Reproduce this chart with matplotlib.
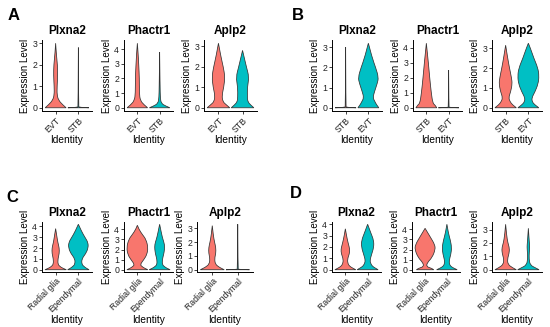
import matplotlib
matplotlib.use("Agg")
import matplotlib.pyplot as plt
from matplotlib.path import Path
from matplotlib.patches import PathPatch

plt.rcParams['font.family'] = ['Liberation Sans', 'DejaVu Sans']

RED = "#F8766D"
TEAL = "#00BFC4"

genes = ["Plxna2", "Phactr1", "Aplp2"]
cats_A = ["EVT", "STB"]
cats_B = ["STB", "EVT"]
cats_C = ["Radial glia", "Ependymal"]
cats_D = ["Radial glia", "Ependymal"]

# violin profiles: (expression levels, half-widths) per gene, per category
A_Plxna2_EVT = ([0, 0.15, 0.35, 0.6, 1.0, 1.5, 2.0, 2.5, 3.0], [0.46, 0.3, 0.13, 0.06, 0.065, 0.09, 0.08, 0.03, 0])
A_Plxna2_STB = ([0, 0.02, 0.06, 2.8], [0.46, 0.03, 0.01, 0])
A_Phactr1_EVT = ([0, 0.2, 0.5, 1.0, 2.0, 3.0, 3.8, 4.4], [0.46, 0.3, 0.13, 0.09, 0.09, 0.06, 0.03, 0])
A_Phactr1_STB = ([0, 0.12, 0.3, 0.7, 1.5, 2.5, 3.8], [0.46, 0.27, 0.07, 0.03, 0.02, 0.01, 0])
A_Aplp2_EVT = ([0, 0.15, 0.3, 0.6, 1.0, 1.5, 2.0, 2.5, 3.15], [0.47, 0.32, 0.18, 0.145, 0.22, 0.27, 0.2, 0.1, 0])
A_Aplp2_STB = ([0, 0.15, 0.3, 0.5, 1.0, 1.5, 2.0, 2.4, 2.8], [0.47, 0.32, 0.22, 0.2, 0.2, 0.27, 0.16, 0.08, 0])

B_Plxna2_STB = ([0, 0.02, 0.06, 3.0], [0.46, 0.03, 0.01, 0])
B_Plxna2_EVT = ([0, 0.15, 0.3, 0.5, 0.8, 1.2, 1.5, 2.0, 2.5, 3.2], [0.46, 0.36, 0.29, 0.2, 0.27, 0.39, 0.45, 0.32, 0.16, 0])
B_Phactr1_STB = ([0, 0.2, 0.3, 1.0, 2.0, 3.0, 4.0, 4.3], [0.47, 0.38, 0.29, 0.22, 0.15, 0.09, 0.02, 0])
B_Phactr1_EVT = ([0, 0.02, 0.06, 2.5], [0.46, 0.03, 0.01, 0])
B_Aplp2_STB = ([0, 0.15, 0.3, 0.5, 0.8, 1.2, 1.5, 2.0, 2.5, 3.15], [0.47, 0.3, 0.2, 0.13, 0.22, 0.29, 0.26, 0.17, 0.09, 0])
B_Aplp2_EVT = ([0, 0.15, 0.3, 0.5, 0.8, 1.2, 1.6, 2.0, 2.5, 3.0, 3.25], [0.46, 0.28, 0.17, 0.15, 0.29, 0.43, 0.47, 0.42, 0.24, 0.09, 0])

C_Plxna2_RG = ([0, 0.15, 0.3, 0.5, 1.0, 1.5, 2.0, 2.5, 3.0, 3.8], [0.47, 0.3, 0.19, 0.1, 0.1, 0.16, 0.16, 0.1, 0.06, 0])
C_Plxna2_EP = ([0, 0.15, 0.3, 0.5, 1.0, 1.5, 2.0, 2.5, 3.0, 3.5, 4.2], [0.47, 0.34, 0.25, 0.15, 0.15, 0.33, 0.43, 0.43, 0.29, 0.15, 0])
C_Phactr1_RG = ([0, 0.15, 0.3, 0.5, 1.0, 1.5, 2.2, 3.0, 3.5, 4.0, 4.4], [0.47, 0.32, 0.22, 0.12, 0.29, 0.43, 0.48, 0.39, 0.22, 0.07, 0])
C_Phactr1_EP = ([0, 0.15, 0.3, 0.5, 1.0, 1.5, 2.0, 2.5, 3.0, 3.5, 4.5], [0.47, 0.32, 0.22, 0.12, 0.12, 0.18, 0.22, 0.22, 0.15, 0.09, 0])
C_Aplp2_RG = ([0, 0.1, 0.2, 0.4, 0.8, 1.2, 1.6, 2.0, 2.5, 3.2], [0.47, 0.36, 0.26, 0.12, 0.09, 0.14, 0.14, 0.09, 0.04, 0])
C_Aplp2_EP = ([0, 0.02, 0.06, 3.3], [0.46, 0.03, 0.01, 0])

D_Plxna2_RG = ([0, 0.15, 0.3, 0.5, 0.9, 1.4, 1.8, 2.3, 3.0, 3.6], [0.47, 0.32, 0.2, 0.12, 0.09, 0.18, 0.2, 0.13, 0.05, 0])
D_Plxna2_EP = ([0, 0.15, 0.3, 0.5, 0.8, 1.3, 2.0, 2.6, 3.2, 4.0], [0.47, 0.34, 0.22, 0.15, 0.1, 0.17, 0.28, 0.27, 0.15, 0])
D_Phactr1_RG = ([0, 0.15, 0.3, 0.7, 1.2, 2.0, 2.5, 3.2, 4.1], [0.4, 0.3, 0.06, 0.1, 0.32, 0.47, 0.44, 0.25, 0])
D_Phactr1_EP = ([0, 0.15, 0.3, 0.5, 0.9, 1.5, 2.2, 3.0, 3.6, 4.5], [0.47, 0.32, 0.2, 0.12, 0.1, 0.18, 0.22, 0.15, 0.07, 0])
D_Aplp2_RG = ([0, 0.15, 0.4, 0.8, 1.2, 1.6, 2.0, 2.6, 3.4], [0.47, 0.3, 0.1, 0.08, 0.15, 0.17, 0.1, 0.04, 0])
D_Aplp2_EP = ([0, 0.15, 0.35, 0.8, 1.3, 1.7, 2.1, 2.6, 3.1], [0.47, 0.3, 0.08, 0.03, 0.04, 0.06, 0.04, 0.02, 0])

panels = [
    ("A", cats_A, [[A_Plxna2_EVT, A_Plxna2_STB], [A_Phactr1_EVT, A_Phactr1_STB], [A_Aplp2_EVT, A_Aplp2_STB]],
     [[0, 1, 2, 3], [0, 1, 2, 3, 4], [0, 1, 2, 3]]),
    ("B", cats_B, [[B_Plxna2_STB, B_Plxna2_EVT], [B_Phactr1_STB, B_Phactr1_EVT], [B_Aplp2_STB, B_Aplp2_EVT]],
     [[0, 1, 2, 3], [0, 1, 2, 3, 4], [0, 1, 2, 3]]),
    ("C", cats_C, [[C_Plxna2_RG, C_Plxna2_EP], [C_Phactr1_RG, C_Phactr1_EP], [C_Aplp2_RG, C_Aplp2_EP]],
     [[0, 1, 2, 3, 4], [0, 1, 2, 3, 4], [0, 1, 2, 3]]),
    ("D", cats_D, [[D_Plxna2_RG, D_Plxna2_EP], [D_Phactr1_RG, D_Phactr1_EP], [D_Aplp2_RG, D_Aplp2_EP]],
     [[0, 1, 2, 3, 4], [0, 1, 2, 3, 4], [0, 1, 2, 3]]),
]

# layout in pixels (left, right) and (top, bottom)
W, H = 550, 327
xspans = {
    "A": [(42, 92), (124, 173), (204, 257)],
    "B": [(332, 382), (413, 462), (492, 542)],
    "C": [(42, 92), (124, 173), (197, 253)],
    "D": [(332, 381), (412, 460), (492, 542)],
}
yspans = {"A": (40, 111), "B": (40, 111), "C": (222, 272), "D": (222, 272)}
letter_pos = {"A": (8, 15), "B": (292, 15), "C": (6, 197), "D": (290, 193)}


def side_path(pts):
    """Smooth one side of the outline with quadratic Bezier segments."""
    verts, codes = [], []
    n = len(pts)
    if n <= 2:
        for p in pts[1:]:
            verts.append(p); codes.append(Path.LINETO)
        return verts, codes
    for i in range(1, n - 1):
        ctrl = pts[i]
        if i < n - 2:
            end = ((pts[i][0] + pts[i + 1][0]) / 2, (pts[i][1] + pts[i + 1][1]) / 2)
        else:
            end = pts[n - 1]
        verts += [ctrl, end]
        codes += [Path.CURVE3, Path.CURVE3]
    return verts, codes


def violin(ax, c, ys, ws, color):
    left = [(c - w, y) for y, w in zip(ys, ws)]
    right = [(c + w, y) for y, w in zip(ys, ws)][::-1]
    verts = [left[0]]
    codes = [Path.MOVETO]
    v, cd = side_path(left)
    verts += v; codes += cd
    verts.append(right[0]); codes.append(Path.LINETO)
    v, cd = side_path(right)
    verts += v; codes += cd
    verts.append(left[0]); codes.append(Path.CLOSEPOLY)
    ax.add_patch(PathPatch(Path(verts, codes), facecolor=color, edgecolor="#333333", linewidth=0.55))


fig = plt.figure(figsize=(W / 100, H / 100), dpi=100)

for letter, cats, violins, yticks in panels:
    top, bot = yspans[letter]
    for gi, gene in enumerate(genes):
        l, r = xspans[letter][gi]
        ax = fig.add_axes([l / W, 1 - bot / H, (r - l) / W, (bot - top) / H])
        ymax = 0
        for ci, (ys, ws) in enumerate(violins[gi]):
            violin(ax, ci + 1, ys, ws, RED if ci == 0 else TEAL)
            ymax = max(ymax, max(ys))
        ax.set_xlim(0.4, 2.6)
        ax.set_ylim(-0.05 * ymax, ymax * 1.05)
        ax.set_yticks(yticks[gi])
        ax.set_xticks([1, 2])
        ax.set_xticklabels(cats, rotation=45, ha="right", rotation_mode="anchor")
        ax.tick_params(axis="both", labelsize=6.3, length=2, width=0.6, pad=1.5, colors="#222222")
        for s in ["top", "right"]:
            ax.spines[s].set_visible(False)
        for s in ["left", "bottom"]:
            ax.spines[s].set_linewidth(0.7)
        ax.set_title(gene, fontsize=8.5, fontweight="bold", pad=4)
        ax.set_ylabel("Expression Level", fontsize=7, labelpad=1.5)
        ax.set_xlabel("Identity", fontsize=7.3, labelpad=0.5)
    lx, ly = letter_pos[letter]
    fig.text(lx / W, 1 - ly / H, letter, fontsize=12, fontweight="bold", va="center", ha="left")

fig.savefig("out.png", dpi=100)
